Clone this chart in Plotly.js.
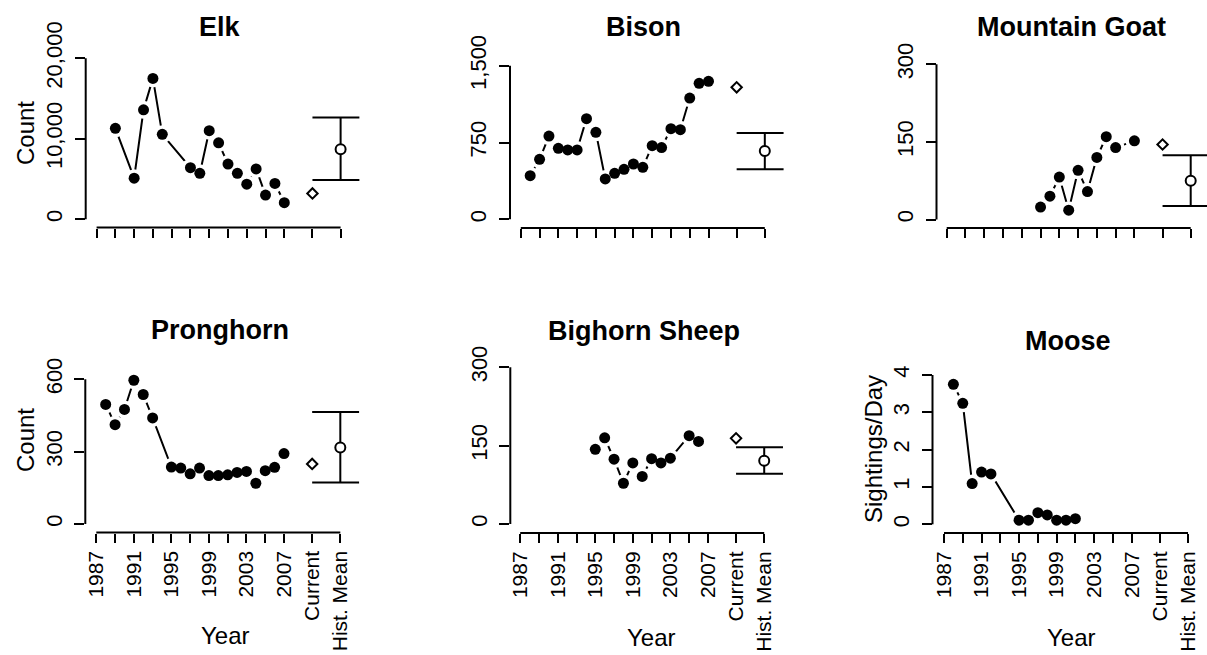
<!DOCTYPE html>
<html>
<head>
<meta charset="utf-8">
<script src="https://cdn.plot.ly/plotly-3.0.1.min.js"></script>
<style>html,body{margin:0;padding:0;background:#fff;}#chart{width:1207px;height:655px;}</style>
</head>
<body>
<div id="chart"></div>
<script>
// ---------- DATA ----------
const xTickVals   = [1987,1989,1991,1993,1995,1997,1999,2001,2003,2005,2007,2010,2013];
const xTickLabels = ['1987','','1991','','1995','','1999','','2003','','2007','Current','Hist. Mean'];
const currentPos = 2010, histPos = 2013;

const elkYears  = [1989,1991,1992,1993,1994,1997,1998,1999,2000,2001,2002,2003,2004,2005,2006,2007];
const elkCounts = [11300,5100,13600,17500,10550,6400,5700,11000,9500,6850,5700,4350,6250,3000,4450,2050];
const elkCurrent = 3200, elkMean = 8700, elkLo = 4870, elkHi = 12650;
const elkYTicks = [0,10000,20000], elkYLabels = ['0','10,000','20,000'];

const bisonYears  = [1988,1989,1990,1991,1992,1993,1994,1995,1996,1997,1998,1999,2000,2001,2002,2003,2004,2005,2006,2007];
const bisonCounts = [426,586,813,693,677,677,983,849,394,449,488,540,508,719,700,885,875,1184,1328,1347];
const bisonCurrent = 1289, bisonMean = 667, bisonLo = 488, bisonHi = 843;
const bisonYTicks = [0,750,1500], bisonYLabels = ['0','750','1,500'];

const goatYears  = [1997,1998,1999,2000,2001,2002,2003,2004,2005,2007];
const goatCounts = [24,45,82,18,95,54,120,160,139,152];
const goatCurrent = 145, goatMean = 75, goatLo = 26, goatHi = 124;
const goatYTicks = [0,150,300], goatYLabels = ['0','150','300'];

const prongYears  = [1988,1989,1990,1991,1992,1993,1995,1996,1997,1998,1999,2000,2001,2002,2003,2004,2005,2006,2007];
const prongCounts = [496,412,475,596,537,440,236,232,208,232,201,201,204,214,218,169,221,235,292];
const prongCurrent = 249, prongMean = 317, prongLo = 172, prongHi = 464;
const prongYTicks = [0,300,600], prongYLabels = ['0','300','600'];

const sheepYears  = [1995,1996,1997,1998,1999,2000,2001,2002,2003,2005,2006];
const sheepCounts = [143,165,124,78,117,91,125,117,126,169,158];
const sheepCurrent = 164, sheepMean = 121, sheepLo = 96, sheepHi = 147;
const sheepYTicks = [0,150,300], sheepYLabels = ['0','150','300'];

const mooseYears = [1988,1989,1990,1991,1992,1995,1996,1997,1998,1999,2000,2001];
const mooseRates = [3.75,3.24,1.09,1.40,1.35,0.11,0.11,0.31,0.25,0.11,0.11,0.15];
const mooseYTicks = [0,1,2,3,4], mooseYLabels = ['0','1','2','3','4'];

// ---------- LAYOUT GEOMETRY (pixels) ----------
const W = 1207, H = 655, PPY = 9.385;
const FONT = '"Liberation Sans", Arial, Helvetica, sans-serif';
const capRightPos = 2015;

const panels = [
  {title:'Elk', years:elkYears, vals:elkCounts, cur:elkCurrent, mean:elkMean, lo:elkLo, hi:elkHi,
   yt:elkYTicks, yl:elkYLabels, p1987:96.6, axX:85.7, y0:219.2, yTopPx:58.3, axY:227.5, bottom:false,
   tx:220, ty:25},
  {title:'Bison', years:bisonYears, vals:bisonCounts, cur:bisonCurrent, mean:bisonMean, lo:bisonLo, hi:bisonHi,
   yt:bisonYTicks, yl:bisonYLabels, p1987:520.8, axX:510, y0:219.3, yTopPx:65.7, axY:228, bottom:false,
   tx:643, ty:25},
  {title:'Mountain Goat', years:goatYears, vals:goatCounts, cur:goatCurrent, mean:goatMean, lo:goatLo, hi:goatHi,
   yt:goatYTicks, yl:goatYLabels, p1987:946.7, axX:936.5, y0:219.5, yTopPx:64.3, axY:228, bottom:false,
   tx:1071, ty:25},
  {title:'Pronghorn', years:prongYears, vals:prongCounts, cur:prongCurrent, mean:prongMean, lo:prongLo, hi:prongHi,
   yt:prongYTicks, yl:prongYLabels, p1987:96.3, axX:85.3, y0:524, yTopPx:379.3, axY:532.5, bottom:true,
   tx:220, ty:328},
  {title:'Bighorn Sheep', years:sheepYears, vals:sheepCounts, cur:sheepCurrent, mean:sheepMean, lo:sheepLo, hi:sheepHi,
   yt:sheepYTicks, yl:sheepYLabels, p1987:520.2, axX:510.3, y0:524, yTopPx:367.3, axY:533, bottom:true,
   tx:644, ty:329},
  {title:'Moose', years:mooseYears, vals:mooseRates, cur:null, mean:null, lo:null, hi:null,
   yt:mooseYTicks, yl:mooseYLabels, p1987:944, axX:932.5, y0:524.3, yTopPx:375, axY:533, bottom:true,
   tx:1067.5, ty:339}
];

const data = [];
const layout = {
  width: W, height: H, margin:{l:0,r:0,t:0,b:0},
  paper_bgcolor:'#fff', plot_bgcolor:'rgba(0,0,0,0)',
  showlegend:false, font:{family:FONT, color:'#000', size:22},
  annotations:[], shapes:[]
};

panels.forEach((p, i) => {
  const k = i + 1;
  const xa = 'x' + (k === 1 ? '' : k), ya = 'y' + (k === 1 ? '' : k);
  const xKey = 'xaxis' + (k === 1 ? '' : k), yKey = 'yaxis' + (k === 1 ? '' : k);
  const topVal = p.yt[p.yt.length - 1];
  const s = (p.y0 - p.yTopPx) / topVal;           // px per unit
  const plotTopPx = p.yTopPx - 14;
  const rightPx = Math.min(p.p1987 + (capRightPos + 0.3 - 1987) * PPY, W);
  const xr = [1987 - (p.p1987 - p.axX) / PPY, 1987 + (rightPx - p.p1987) / PPY];
  const yr = [-(p.axY - p.y0) / s, (p.y0 - plotTopPx) / s];

  layout[xKey] = {
    domain:[p.axX / W, rightPx / W], range:xr, anchor:ya,
    showgrid:false, zeroline:false, showline:false,
    ticks:'outside', ticklen:9, tickwidth:2, tickcolor:'#000',
    tickmode:'array', tickvals:xTickVals, ticktext:xTickLabels,
    showticklabels:p.bottom, tickangle:-90, tickfont:{size:21, family:FONT, color:'#000'},
    fixedrange:true
  };
  layout[yKey] = {
    domain:[1 - p.axY / H, 1 - plotTopPx / H], range:yr, anchor:xa,
    showgrid:false, zeroline:false, showline:false,
    ticks:'outside', ticklen:10, tickwidth:2, tickcolor:'#000',
    tickmode:'array', tickvals:p.yt, ticktext:p.yl,
    tickangle:-90, tickfont:{size:22, family:FONT, color:'#000'},
    ticklabelstandoff:4,
    fixedrange:true
  };
  // axis lines spanning tick extents (R style)
  layout.shapes.push({type:'line', xref:xa, yref:ya + ' domain', x0:1987, x1:histPos, y0:0, y1:0,
                      line:{color:'#000', width:2}});
  layout.shapes.push({type:'line', xref:xa + ' domain', yref:ya, x0:0, x1:0, y0:p.yt[0], y1:topVal,
                      line:{color:'#000', width:2}});

  // series: line, white gaps, black dots
  data.push({type:'scatter', mode:'lines', x:p.years, y:p.vals, xaxis:xa, yaxis:ya,
             line:{color:'#000', width:2}, hoverinfo:'skip'});
  data.push({type:'scatter', mode:'markers', x:p.years, y:p.vals, xaxis:xa, yaxis:ya, cliponaxis:false,
             marker:{color:'#fff', size:18, line:{width:0}}, hoverinfo:'skip'});
  data.push({type:'scatter', mode:'markers', x:p.years, y:p.vals, xaxis:xa, yaxis:ya, cliponaxis:false,
             marker:{color:'#000', size:11, line:{width:0}}});

  if (p.mean !== null) {
    data.push({type:'scatter', mode:'lines', xaxis:xa, yaxis:ya,
               x:[currentPos, capRightPos, null, currentPos, capRightPos, null, histPos, histPos],
               y:[p.hi, p.hi, null, p.lo, p.lo, null, p.lo, p.hi],
               line:{color:'#000', width:2}, hoverinfo:'skip'});
    data.push({type:'scatter', mode:'markers', x:[histPos], y:[p.mean], xaxis:xa, yaxis:ya, cliponaxis:false,
               marker:{symbol:'circle', color:'#fff', size:10, line:{color:'#000', width:2}}});
    data.push({type:'scatter', mode:'markers', x:[currentPos], y:[p.cur], xaxis:xa, yaxis:ya, cliponaxis:false,
               marker:{symbol:'diamond', color:'#fff', size:8, line:{color:'#000', width:2}}});
  }

  layout.annotations.push({text:'<b>' + p.title + '</b>', xref:'paper', yref:'paper',
    x:p.tx / W, y:1 - (p.ty + 2) / H, xanchor:'center', yanchor:'middle', showarrow:false,
    font:{size:27, family:FONT, color:'#000'}});
});

// axis titles
const axisTitles = [
  {text:'Count', x:25, y:133, angle:-90},
  {text:'Count', x:25, y:440, angle:-90},
  {text:'Sightings/Day', x:873, y:449, angle:-90},
  {text:'Year', x:225, y:635, angle:0},
  {text:'Year', x:651.7, y:637, angle:0},
  {text:'Year', x:1071.7, y:637, angle:0}
];
axisTitles.forEach(t => layout.annotations.push({text:t.text, xref:'paper', yref:'paper',
  x:t.x / W, y:1 - t.y / H, xanchor:'center', yanchor:'middle', textangle:t.angle, showarrow:false,
  font:{size:24, family:FONT, color:'#000'}}));

Plotly.newPlot('chart', data, layout, {displayModeBar:false, staticPlot:true});
</script>
</body>
</html>
